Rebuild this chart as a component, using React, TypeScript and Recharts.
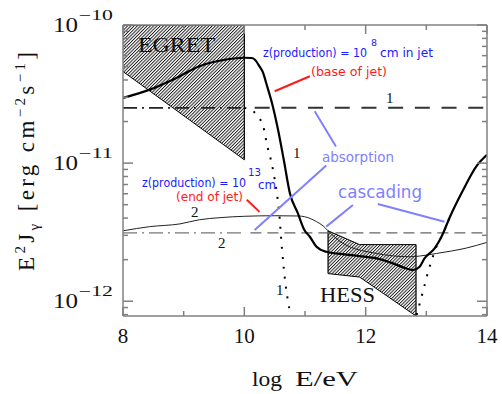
import React from 'react';
import { ComposedChart, Line, Area, XAxis, YAxis, ReferenceLine } from 'recharts';

const SERIF = '"Liberation Serif", "Times New Roman", serif';
const SANS = '"DejaVu Sans", Verdana, sans-serif';
const AXIS = '#808080';
const BLUE = '#1a1aff';
const RED = '#ff1a1a';
const LBLUE = '#8080ff';

// ---- axes (x: log E/eV, y: log10 of E^2 J in erg cm^-2 s^-1)
const X_DOMAIN: [number, number] = [8, 14];
const X_TICKS = [8, 9, 10, 11, 12, 13, 14];
const X_LABELED = [8, 10, 12, 14];
const Y_DOMAIN: [number, number] = [-12.107, -10];
const Y_DECADES = [-13, -12, -11, -10];
const Y_MANTISSAS = [1, 2, 3, 4, 5, 6, 7, 8, 9];

// ---- curve 1, solid thick (absorbed + cascade)
const thickX = [8.0, 8.44, 8.88, 9.26, 9.7, 10.0, 10.12, 10.17, 10.25, 10.31, 10.36, 10.47, 10.55, 10.65, 10.75, 10.88, 10.99, 11.08, 11.19, 11.35, 11.62, 11.9, 12.18, 12.45, 12.67, 12.78, 12.89, 12.97, 13.14, 13.25, 13.39, 13.6, 13.83, 14.0];
const thickY = [-10.528, -10.468, -10.383, -10.298, -10.25, -10.237, -10.239, -10.25, -10.3, -10.346, -10.42, -10.59, -10.746, -10.976, -11.216, -11.361, -11.485, -11.533, -11.606, -11.642, -11.659, -11.673, -11.69, -11.726, -11.763, -11.775, -11.751, -11.69, -11.615, -11.533, -11.388, -11.2, -11.02, -10.94];

// ---- curve 2, thin solid
const thinX = [8.0, 8.44, 8.94, 9.26, 9.6, 10.0, 10.5, 10.9, 11.08, 11.19, 11.3, 11.38, 11.62, 12.18, 12.73, 12.89, 13.17, 13.66, 14.0];
const thinY = [-11.49, -11.46, -11.44, -11.41, -11.395, -11.385, -11.381, -11.383, -11.4, -11.424, -11.455, -11.49, -11.58, -11.654, -11.678, -11.673, -11.654, -11.615, -11.574];

// ---- curve 1, dotted (absorbed only)
const dotLeftX = [10.0, 10.13, 10.24, 10.31, 10.38, 10.45, 10.52, 10.57, 10.62, 10.68, 10.74];
const dotLeftY = [-10.6, -10.62, -10.67, -10.73, -10.88, -11.0, -11.17, -11.34, -11.62, -11.88, -12.05];
const dotRightX = [12.84, 12.95, 13.03, 13.08, 13.19, 13.25, 13.39];
const dotRightY = [-12.1, -11.92, -11.787, -11.715, -11.58, -11.533, -11.388];

// ---- injected spectra (flat) 1 and 2
const flat1Y = -10.6;
const flat2Y = -11.505;
const dashDotX = [8, 10];
const dashedX1 = [10.17, 14];
const dashedX2 = [10.1, 14];

// ---- EGRET and HESS boxes: x, low, high
const egretX = [8, 10];
const egretLow = [-10.337, -10.976];
const egretHigh = [-10, -10];
const hessX = [11.38, 11.9, 12.83];
const hessLow = [-11.8, -11.825, -12.107];
const hessHigh = [-11.49, -11.59, -11.59];

// ---- annotation pointers [x1, y1, x2, y2]
const redPointers = [
  [10.5, -10.48, 11.08, -10.371],
  [10.04, -11.266, 10.25, -11.353],
];
const bluePointers = [
  [11.16, -10.625, 11.51, -10.879],
  [11.35, -11.017, 10.17, -11.485],
  [11.79, -11.303, 11.35, -11.46],
  [12.2, -11.296, 13.3, -11.424],
];

const zip = (xs: number[], ys: number[]) => xs.map((x, i) => ({ x, y: ys[i] }));
const thickData = zip(thickX, thickY);
const thinData = zip(thinX, thinY);
const dotLeftData = zip(dotLeftX, dotLeftY);
const dotRightData = zip(dotRightX, dotRightY);
const dashDot1 = dashDotX.map((x) => ({ x, y: flat1Y }));
const dashDot2 = dashDotX.map((x) => ({ x, y: flat2Y }));
const dashed1 = dashedX1.map((x) => ({ x, y: flat1Y }));
const dashed2 = dashedX2.map((x) => ({ x, y: flat2Y }));
const egretData = egretX.map((x, i) => ({ x, range: [egretLow[i], egretHigh[i]] }));
const hessData = hessX.map((x, i) => ({ x, range: [hessLow[i], hessHigh[i]] }));
const yTicks = Y_DECADES.flatMap((d) => Y_MANTISSAS.map((m) => d + Math.log10(m))).filter(
  (v) => v >= Y_DOMAIN[0] - 1e-9 && v <= Y_DOMAIN[1] + 1e-9
);

const isMajorY = (v: number) => Math.abs(v - Math.round(v)) < 1e-6;

function LeftTick(props: any) {
  const { x, y, payload } = props;
  const v = payload.value;
  const major = isMajorY(v);
  return (
    <g>
      <line x1={x} y1={y} x2={x + (major ? 10 : 5)} y2={y} stroke={AXIS} strokeWidth={1.5} />
      {major && (
        <>
          <text x={x - 45} y={y + 7} textAnchor="end" fontFamily={SERIF} fontSize={21} fill="#111" textLength={25} lengthAdjust="spacingAndGlyphs">10</text>
          <text x={x - 44} y={y - 5} fontFamily={SERIF} fontSize={14} fill="#111" textLength={34} lengthAdjust="spacingAndGlyphs">{'\u2212' + Math.abs(Math.round(v))}</text>
        </>
      )}
    </g>
  );
}
function RightTick(props: any) {
  const { x, y, payload } = props;
  const major = isMajorY(payload.value);
  return <line x1={x} y1={y} x2={x - (major ? 10 : 5)} y2={y} stroke={AXIS} strokeWidth={1.5} />;
}
function BottomTick(props: any) {
  const { x, y, payload } = props;
  const v = payload.value;
  const major = X_LABELED.includes(v);
  return (
    <g>
      <line x1={x} y1={y} x2={x} y2={y - (major ? 9 : 5)} stroke={AXIS} strokeWidth={1.5} />
      {major && (
        <text x={x} y={y + 27} textAnchor="middle" fontFamily={SERIF} fontSize={21} fill="#111">{v}</text>
      )}
    </g>
  );
}
function TopTick(props: any) {
  const { x, y, payload } = props;
  const major = X_LABELED.includes(payload.value);
  return <line x1={x} y1={y} x2={x} y2={y + (major ? 9 : 5)} stroke={AXIS} strokeWidth={1.5} />;
}

export default function App() {
  return (
    <div style={{ position: 'absolute', left: 0, top: 0, width: 502, height: 394, background: '#fff' }}>
      <svg width={0} height={0} style={{ position: 'absolute' }}>
        <defs>
          <pattern id="hatch" patternUnits="userSpaceOnUse" width={2.3} height={2.3} patternTransform="rotate(45)">
            <rect x={0} y={0} width={2.3} height={2.3} fill="#fff" />
            <line x1={0.5} y1={-1} x2={0.5} y2={4} stroke="#000" strokeWidth={0.85} />
          </pattern>
        </defs>
      </svg>
      <ComposedChart width={502} height={394} margin={{ top: 20, right: 10, bottom: 48, left: 23 }}>
        <XAxis dataKey="x" type="number" domain={X_DOMAIN} allowDataOverflow ticks={X_TICKS} interval={0}
          tickSize={0} tickMargin={0} tickLine={false} tick={<BottomTick />} height={30}
          axisLine={{ stroke: AXIS, strokeWidth: 1.5 }} />
        <XAxis xAxisId="top" orientation="top" dataKey="x" type="number" domain={X_DOMAIN} allowDataOverflow ticks={X_TICKS} interval={0}
          tickSize={0} tickMargin={0} tickLine={false} tick={<TopTick />} height={5}
          axisLine={{ stroke: AXIS, strokeWidth: 1.5 }} />
        <YAxis type="number" domain={Y_DOMAIN} allowDataOverflow ticks={yTicks} interval={0}
          tickSize={0} tickMargin={0} tickLine={false} tick={<LeftTick />} width={100}
          axisLine={{ stroke: AXIS, strokeWidth: 1.5 }} />
        <YAxis yAxisId="right" orientation="right" type="number" domain={Y_DOMAIN} allowDataOverflow ticks={yTicks} interval={0}
          tickSize={0} tickMargin={0} tickLine={false} tick={<RightTick />} width={5}
          axisLine={{ stroke: AXIS, strokeWidth: 1.5 }} />

        <Area data={egretData} dataKey="range" type="linear" stroke="#000" strokeWidth={1} fill="url(#hatch)" fillOpacity={1} isAnimationActive={false} dot={false} activeDot={false} />
        <Area data={hessData} dataKey="range" type="linear" stroke="#000" strokeWidth={1} fill="url(#hatch)" fillOpacity={1} isAnimationActive={false} dot={false} activeDot={false} />
        <ReferenceLine segment={[{ x: egretX[1], y: egretLow[1] }, { x: egretX[1], y: egretHigh[1] }]} stroke="#000" strokeWidth={1.2} />
        <ReferenceLine segment={[{ x: hessX[0], y: hessLow[0] }, { x: hessX[0], y: hessHigh[0] }]} stroke="#000" strokeWidth={1.2} />
        <ReferenceLine segment={[{ x: hessX[2], y: hessLow[2] }, { x: hessX[2], y: hessHigh[2] }]} stroke="#000" strokeWidth={1.2} />

        <Line data={dashDot1} dataKey="y" type="linear" stroke="#222" strokeWidth={1.6} strokeDasharray="14 5 2 5" dot={false} activeDot={false} isAnimationActive={false} />
        <Line data={dashDot2} dataKey="y" type="linear" stroke="#777" strokeWidth={1.2} strokeDasharray="14 5 2 5" dot={false} activeDot={false} isAnimationActive={false} />
        <Line data={dashed1} dataKey="y" type="linear" stroke="#333" strokeWidth={2} strokeDasharray="15 11.7" dot={false} activeDot={false} isAnimationActive={false} />
        <Line data={dashed2} dataKey="y" type="linear" stroke="#666" strokeWidth={1.2} strokeDasharray="11 6" dot={false} activeDot={false} isAnimationActive={false} />

        <Line data={thinData} dataKey="y" type="monotone" stroke="#222" strokeWidth={1} dot={false} activeDot={false} isAnimationActive={false} />
        <Line data={dotLeftData} dataKey="y" type="monotone" stroke="#000" strokeWidth={2} strokeDasharray="2 8" dot={false} activeDot={false} isAnimationActive={false} />
        <Line data={dotRightData} dataKey="y" type="monotone" stroke="#000" strokeWidth={2} strokeDasharray="2 8" dot={false} activeDot={false} isAnimationActive={false} />
        <Line data={thickData} dataKey="y" type="monotone" stroke="#000" strokeWidth={2.2} dot={false} activeDot={false} isAnimationActive={false} />

        {redPointers.map((p, i) => (
          <ReferenceLine key={'r' + i} segment={[{ x: p[0], y: p[1] }, { x: p[2], y: p[3] }]} stroke={RED} strokeWidth={2} />
        ))}
        {bluePointers.map((p, i) => (
          <ReferenceLine key={'b' + i} segment={[{ x: p[0], y: p[1] }, { x: p[2], y: p[3] }]} stroke={LBLUE} strokeWidth={2} />
        ))}
      </ComposedChart>

      <svg width={502} height={394} style={{ position: 'absolute', left: 0, top: 0, pointerEvents: 'none' }}>
        {/* axis titles */}
        <text x={252} y={386} fontFamily={SERIF} fontSize={20} fill="#111" textLength={30} lengthAdjust="spacingAndGlyphs">log</text>
        <text x={295} y={386} fontFamily={SERIF} fontSize={20} fill="#111" textLength={63} lengthAdjust="spacingAndGlyphs">E/eV</text>
        <g transform="translate(34, 271) rotate(-90)">
          <text x={0} y={0} fontFamily={SERIF} fontSize={23} fill="#111" textLength={219} lengthAdjust="spacing">
            <tspan>E</tspan>
            <tspan fontSize={15} dy={-9}>2</tspan>
            <tspan dy={9}>J</tspan>
            <tspan fontSize={15} dy={5}>{'\u03b3'}</tspan>
            <tspan dy={-5}>{' [erg cm'}</tspan>
            <tspan fontSize={15} dy={-9}>{'\u22122'}</tspan>
            <tspan dy={9}>s</tspan>
            <tspan fontSize={15} dy={-9}>{'\u22121'}</tspan>
            <tspan dy={9}>]</tspan>
          </text>
        </g>

        {/* box labels */}
        <text x={138} y={52} fontFamily={SERIF} fontSize={22} fill="#111" textLength={77} lengthAdjust="spacingAndGlyphs">EGRET</text>
        <text x={320} y={302} fontFamily={SERIF} fontSize={22} fill="#111" textLength={55} lengthAdjust="spacingAndGlyphs">HESS</text>

        {/* curve numbers */}
        <text x={386} y={103} fontFamily={SERIF} fontSize={15} fill="#111">1</text>
        <text x={293} y={158} fontFamily={SERIF} fontSize={15} fill="#111">1</text>
        <text x={191} y={217} fontFamily={SERIF} fontSize={15} fill="#111">2</text>
        <text x={218} y={248} fontFamily={SERIF} fontSize={15} fill="#111">2</text>
        <text x={276} y={295} fontFamily={SERIF} fontSize={15} fill="#111">1</text>

        {/* annotations */}
        <text x={263} y={57} fontFamily={SANS} fontSize={12} fill={BLUE} textLength={104} lengthAdjust="spacingAndGlyphs">z(production) = 10</text>
        <text x={371} y={46} fontFamily={SANS} fontSize={9.5} fill={BLUE}>8</text>
        <text x={380} y={57} fontFamily={SANS} fontSize={12} fill={BLUE} textLength={53} lengthAdjust="spacingAndGlyphs">cm in jet</text>
        <text x={311} y={76} fontFamily={SANS} fontSize={12.5} fill={RED} textLength={76} lengthAdjust="spacingAndGlyphs">(base of jet)</text>
        <text x={322} y={162} fontFamily={SANS} fontSize={13.5} fill={LBLUE} textLength={72} lengthAdjust="spacingAndGlyphs">absorption</text>
        <text x={142} y={187} fontFamily={SANS} fontSize={12} fill={BLUE} textLength={104} lengthAdjust="spacingAndGlyphs">z(production) = 10</text>
        <text x={248} y={176} fontFamily={SANS} fontSize={10.5} fill={BLUE} textLength={13} lengthAdjust="spacingAndGlyphs">13</text>
        <text x={258} y={189} fontFamily={SANS} fontSize={12} fill={BLUE} textLength={18} lengthAdjust="spacingAndGlyphs">cm</text>
        <text x={176} y={201} fontFamily={SANS} fontSize={12.5} fill={RED} textLength={67} lengthAdjust="spacingAndGlyphs">(end of jet)</text>
        <text x={338} y={198} fontFamily={SANS} fontSize={17} fill={LBLUE} textLength={84} lengthAdjust="spacingAndGlyphs">cascading</text>
      </svg>
    </div>
  );
}
